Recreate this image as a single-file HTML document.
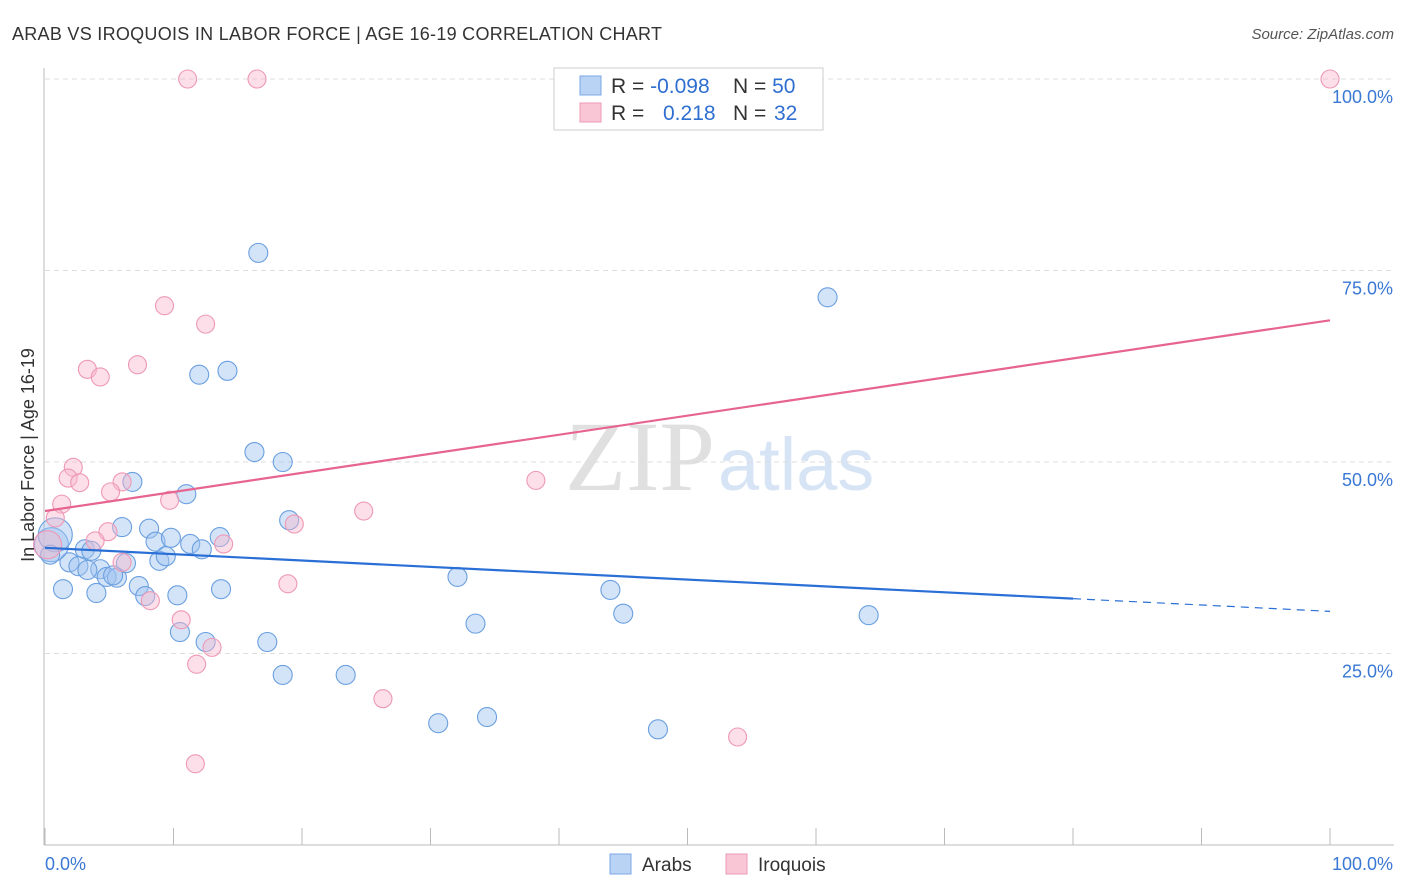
<!DOCTYPE html>
<html><head><meta charset="utf-8"><style>
body{margin:0;background:#fff;font-family:"Liberation Sans",sans-serif}
svg{display:block}
</style></head><body>
<svg id="chart" width="1406" height="892" xmlns="http://www.w3.org/2000/svg">
<text x="12" y="40" font-size="18" fill="#333" textLength="650">ARAB VS IROQUOIS IN LABOR FORCE | AGE 16-19 CORRELATION CHART</text>
<text x="1394" y="39" font-size="15" fill="#555" font-style="italic" text-anchor="end">Source: ZipAtlas.com</text>
<text x="715" y="490" font-size="100" fill="#e0e0e0" text-anchor="end" font-family="Liberation Serif,serif">ZIP</text>
<text x="718" y="490" font-size="74" fill="#d6e4f5">atlas</text>
<g id="grid"></g>
<g id="axes"></g>
<g id="points"></g>
<g id="lines"></g>
<text transform="translate(34,455) rotate(-90)" font-size="18" fill="#333" text-anchor="middle">In Labor Force | Age 16-19</text>
<g>
<rect x="554" y="68" width="269" height="62" fill="#fff" stroke="#ccc"/>
<rect x="580" y="76" width="21" height="19" fill="#b9d3f5" stroke="#7aa7e3"/>
<rect x="580" y="103" width="21" height="19" fill="#f9c6d6" stroke="#ee9ab5"/>
<text x="611" y="93" font-size="21" fill="#333">R = <tspan fill="#2f6fd0">-0.098</tspan><tspan x="733">N = </tspan><tspan fill="#2f6fd0">50</tspan></text>
<text x="611" y="120" font-size="21" fill="#333">R = <tspan x="663" fill="#2f6fd0">0.218</tspan><tspan x="733">N = </tspan><tspan x="774" fill="#2f6fd0">32</tspan></text>
</g>
<g>
<rect x="610" y="854" width="21" height="20" fill="#b9d3f5" stroke="#7aa7e3"/>
<text x="642" y="871" font-size="19" fill="#333">Arabs</text>
<rect x="726" y="854" width="21" height="20" fill="#f9c6d6" stroke="#ee9ab5"/>
<text x="758" y="871" font-size="19" fill="#333">Iroquois</text>
</g>
</svg>
<script>
const arabX=[16.6,60.9,12.0,14.2,16.3,18.5,6.8,11.0,6.0,8.1,8.6,9.8,11.3,12.2,13.6,19.0,3.1,3.6,1.9,2.6,4.3,4.8,5.6,6.3,7.3,8.9,9.4,13.7,4.0,7.8,10.3,1.4,10.5,12.5,17.3,18.5,23.4,32.1,33.5,44.0,45.0,64.1,30.6,34.4,47.7,0.5,0.8,0.4,5.3,3.3];
const arabY=[77.3,71.5,61.4,61.9,51.3,50.0,47.4,45.8,41.5,41.3,39.6,40.1,39.3,38.6,40.2,42.4,38.6,38.4,36.9,36.4,36.0,35.0,34.9,36.8,33.8,37.1,37.7,33.4,32.9,32.5,32.6,33.4,27.8,26.5,26.5,22.2,22.2,35.0,28.9,33.3,30.2,30.0,15.9,16.7,15.1,39.2,40.5,37.9,35.2,35.9];
const arabBig=[45,46];
const iroX=[11.1,16.5,100,9.3,12.5,7.2,3.3,4.3,2.2,1.8,2.7,6.0,5.1,9.7,1.3,0.8,4.9,3.9,13.9,6.0,24.8,38.2,19.4,8.2,10.6,13.0,18.9,11.8,26.3,53.9,11.7,0.2];
const iroY=[100,100,100,70.4,68.0,62.7,62.1,61.1,49.3,47.9,47.3,47.4,46.1,45.0,44.5,42.7,40.9,39.7,39.3,36.9,43.6,47.6,41.9,31.9,29.4,25.8,34.1,23.6,19.1,14.1,10.6,39.2];
const iroBig=[31];
const yTicks=[25,50,75,100];
const yTickLabels=["25.0%","50.0%","75.0%","100.0%"];
const xTicks=[0,10,20,30,40,50,60,70,80,90,100];
const arabTrend=[38.8,30.5];
const iroTrend=[43.6,68.5];
const NS="http://www.w3.org/2000/svg";
const sx=v=>45+v*12.85, sy=v=>845-v*7.66;
function mk(tag,attrs,parent){const e=document.createElementNS(NS,tag);for(const k in attrs)e.setAttribute(k,attrs[k]);document.getElementById(parent).appendChild(e);return e;}
yTicks.forEach((t,i)=>{
 const l=mk('line',{x1:45,x2:1394,y1:sy(t),y2:sy(t),stroke:'#ddd','stroke-dasharray':'5,4'},'grid');
 
 
 const tx=mk('text',{x:1393,y:sy(t)+24,'font-size':18,fill:'#3a78d4','text-anchor':'end'},'grid');
 tx.textContent=yTickLabels[i];
 
 
});
const ax=mk('line',{x1:44,x2:44,y1:68,y2:845,stroke:'#bbb'},'axes');


const bx=mk('line',{x1:44,x2:1394,y1:845,y2:845,stroke:'#bbb'},'axes');


xTicks.forEach(t=>{
 const l=mk('line',{x1:sx(t),x2:sx(t),y1:828,y2:845,stroke:'#bbb'},'axes');
 
 
});
const xl0=mk('text',{x:45,y:870,'font-size':18,fill:'#3a78d4'},'axes');xl0.textContent='0.0%';


const xl1=mk('text',{x:1393,y:870,'font-size':18,fill:'#3a78d4','text-anchor':'end'},'axes');xl1.textContent='100.0%';


arabX.forEach((x,i)=>{
 const c=mk('circle',{cx:sx(x),cy:sy(arabY[i]),r:arabBig.includes(i)?17:9.5,fill:'rgba(160,196,240,0.45)',stroke:'#6a9fe0','stroke-width':1.1},'points');
 
 
});
iroX.forEach((x,i)=>{
 const c=mk('circle',{cx:sx(x),cy:sy(iroY[i]),r:iroBig.includes(i)?14:9,fill:'rgba(248,184,204,0.45)',stroke:'#ee98b5','stroke-width':1.1},'points');
 
 
});
const ay=v=>arabTrend[0]+(arabTrend[1]-arabTrend[0])*v/100;
const l1=mk('line',{x1:sx(0),y1:sy(ay(0)),x2:sx(80),y2:sy(ay(80)),stroke:'#2a6fd6','stroke-width':2.2},'lines');


const l2=mk('line',{x1:sx(80),y1:sy(ay(80)),x2:sx(100),y2:sy(ay(100)),stroke:'#2a6fd6','stroke-width':1.2,'stroke-dasharray':'8,6'},'lines');


const l3=mk('line',{x1:sx(0),y1:sy(iroTrend[0]),x2:sx(100),y2:sy(iroTrend[1]),stroke:'#e6648f','stroke-width':2.2},'lines');


</script>
</body></html>
